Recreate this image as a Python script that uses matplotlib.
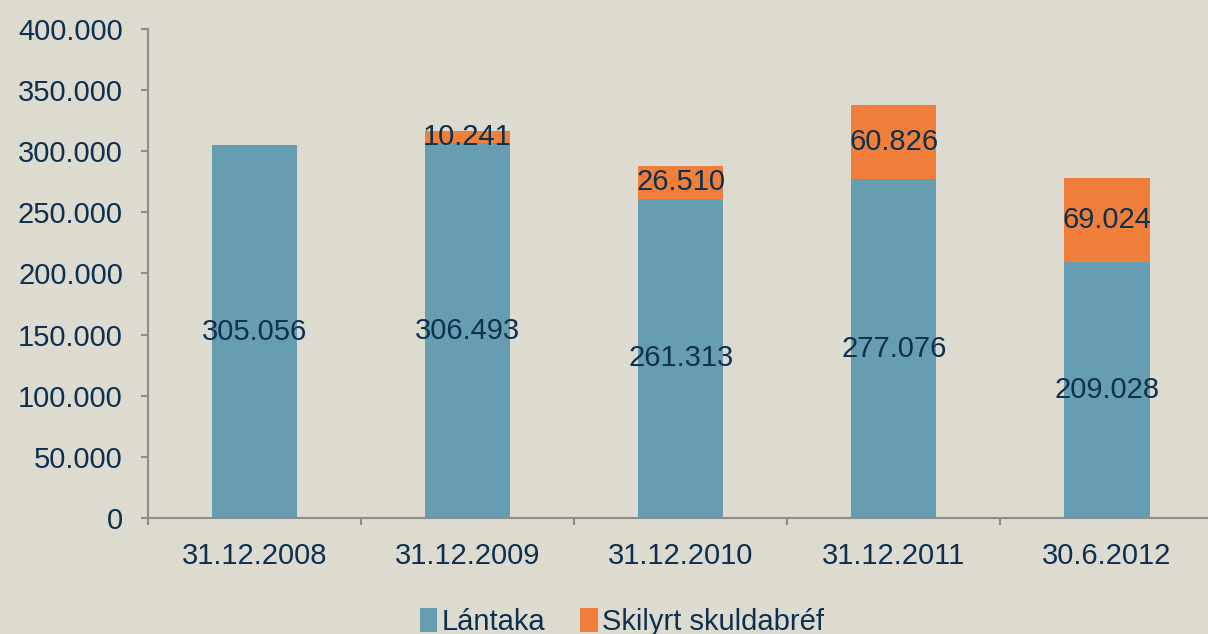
import matplotlib.pyplot as plt
import numpy as np

plt.rcParams['font.family'] = ['Liberation Sans', 'DejaVu Sans']

dates = ['31.12.2008', '31.12.2009', '31.12.2010', '31.12.2011', '30.6.2012']
lantaka = [305056, 306493, 261313, 277076, 209028]
skuldabref = [0, 10241, 26510, 60826, 69024]

bg = '#DDDBD0'
blue = '#679DB0'
orange = '#F07F3C'
txt = '#0D3050'
fs = 21

fig = plt.figure(figsize=(12.08, 6.34), dpi=100, facecolor=bg)
ax = fig.add_axes([0.1225, 0.183, 0.882, 0.7713])
ax.set_facecolor(bg)

x = np.arange(len(dates))
ax.bar(x, lantaka, width=0.4, color=blue, label='Lántaka')
ax.bar(x, skuldabref, width=0.4, bottom=lantaka, color=orange, label='Skilyrt skuldabréf')

def fmt(v):
    return f'{v:,}'.replace(',', '.')

for i in range(len(dates)):
    ax.text(x[i], lantaka[i] / 2, fmt(lantaka[i]), ha='center', va='center', fontsize=fs, color=txt)
    if skuldabref[i] > 0:
        ax.text(x[i], lantaka[i] + skuldabref[i] / 2, fmt(skuldabref[i]),
                ha='center', va='center', fontsize=fs, color=txt)

ax.set_xlim(-0.5, len(dates) - 0.5)
ax.set_ylim(0, 400000)
ax.set_yticks(np.arange(0, 400001, 50000))
ax.set_yticklabels([fmt(v) for v in range(0, 400001, 50000)])
ax.set_xticks(x)
ax.set_xticklabels(dates)
ax.set_xticks(np.arange(-0.5, len(dates), 1), minor=True)
ax.tick_params(axis='x', which='major', length=0, pad=17, labelsize=fs, labelcolor=txt)
ax.tick_params(axis='x', which='minor', length=5, color='#8C8C8C', width=1.5)
ax.tick_params(axis='y', length=5, color='#8C8C8C', width=1.5, labelsize=fs, labelcolor=txt, pad=13)

for s in ['top', 'right']:
    ax.spines[s].set_visible(False)
for s in ['left', 'bottom']:
    ax.spines[s].set_color('#8C8C8C')
    ax.spines[s].set_linewidth(1.5)

fig.legend(loc='lower center', bbox_to_anchor=(0.515, -0.045), ncol=2, frameon=False,
           fontsize=fs, labelcolor=txt, handlelength=0.6, handleheight=0.9,
           handletextpad=0.15, columnspacing=1.2)

fig.savefig('out.png', dpi=100, facecolor=bg)
